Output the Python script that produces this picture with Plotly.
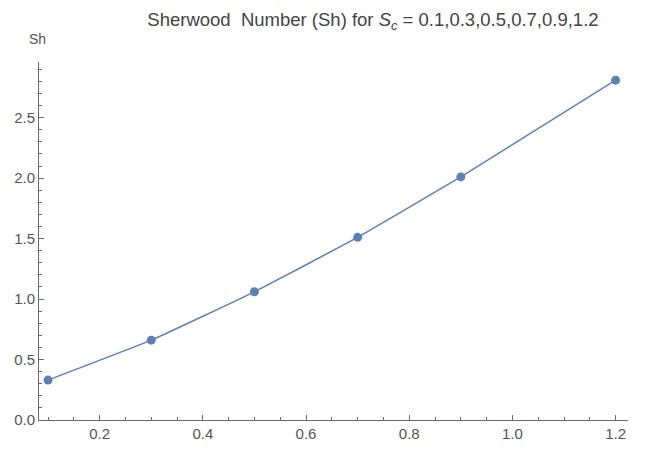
import plotly.graph_objects as go

sc = [0.1, 0.3, 0.5, 0.7, 0.9, 1.2]
sh = [0.33, 0.66, 1.06, 1.51, 2.01, 2.81]
xticks = [0.2, 0.4, 0.6, 0.8, 1.0, 1.2]
yticks = [0.0, 0.5, 1.0, 1.5, 2.0, 2.5]

blue = "#5E81B5"
axis_col = "#6b6b6b"
txt_col = "#555555"
font_fam = "Liberation Sans Narrow, Liberation Sans, Arial, sans-serif"

fig = go.Figure()
fig.add_trace(go.Scatter(
    x=sc, y=sh, mode="lines+markers",
    line=dict(color=blue, width=1.5, shape="spline", smoothing=0.3),
    marker=dict(color=blue, size=9),
    showlegend=False,
    cliponaxis=False,
))

# page body has an 8px default margin, so the figure is offset by 8px
fig.update_layout(
    width=643, height=447,
    margin=dict(l=31, r=23, t=54, b=35, autoexpand=False),
    paper_bgcolor="white", plot_bgcolor="white",
    font=dict(family=font_fam, color=txt_col, size=14),
    title=dict(
        text="Sherwood&nbsp;&nbsp;Number (Sh) for <i>S</i><sub><i>c</i></sub> = 0.1,0.3,0.5,0.7,0.9,1.2",
        xref="paper", x=0.567, xanchor="center", y=0.975, yanchor="middle",
        font=dict(family=font_fam, size=18.5, color="#444444"),
    ),
    xaxis=dict(
        range=[0.0825, 1.224], showgrid=False, zeroline=False, automargin=False,
        showline=True, linecolor=axis_col, linewidth=1,
        tickvals=xticks, ticktext=[f"{v:.1f}" for v in xticks],
        ticks="inside", ticklen=5, tickcolor=axis_col, tickwidth=1,
        minor=dict(dtick=0.05, tick0=0, ticks="inside", ticklen=3, tickcolor=axis_col),
        tickfont=dict(size=15, color=txt_col),
    ),
    yaxis=dict(
        range=[0, 2.96], showgrid=False, zeroline=False, automargin=False,
        showline=True, linecolor=axis_col, linewidth=1,
        tickvals=yticks, ticktext=[f"{v:.1f}" for v in yticks],
        ticks="inside", ticklen=5, tickcolor=axis_col, tickwidth=1,
        minor=dict(dtick=0.1, tick0=0, ticks="inside", ticklen=3, tickcolor=axis_col),
        tickfont=dict(size=15, color=txt_col),
    ),
    annotations=[dict(
        text="Sh", xref="paper", yref="paper", x=-0.003, y=1.035,
        xanchor="center", yanchor="bottom", showarrow=False,
        font=dict(family=font_fam, size=14, color=txt_col),
    )],
)

fig.write_html("out.html")
